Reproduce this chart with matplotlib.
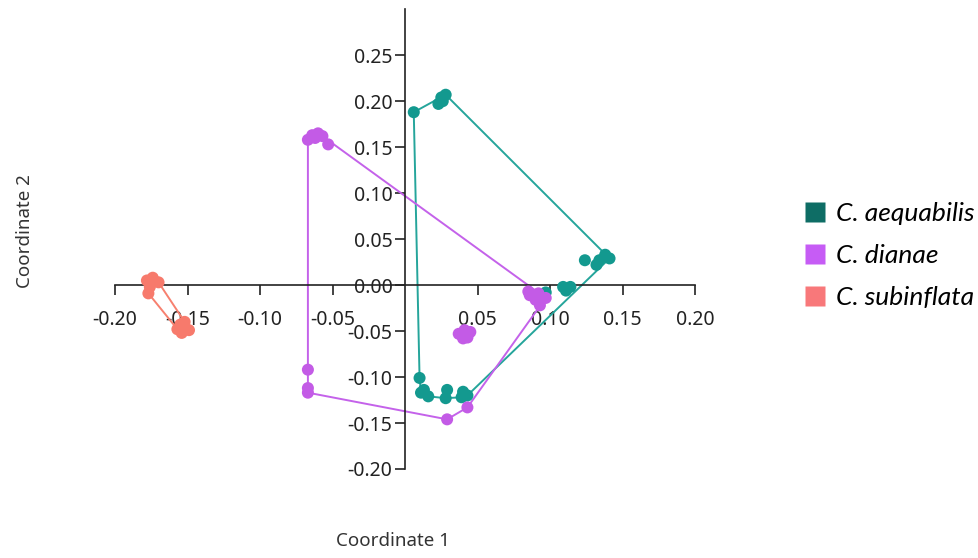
import matplotlib
matplotlib.use('Agg')
import matplotlib.pyplot as plt
from matplotlib.lines import Line2D
import numpy as np

plt.rcParams['axes.unicode_minus'] = False

species = ['C. aequabilis', 'C. dianae', 'C. subinflata']

aeq_x = [0.006, 0.023, 0.025, 0.028, 0.026, 0.138, 0.141, 0.134, 0.132, 0.124,
         0.109, 0.114, 0.111, 0.097, 0.010, 0.011, 0.013, 0.016, 0.029, 0.028,
         0.040, 0.043, 0.039]
aeq_y = [0.188, 0.197, 0.204, 0.207, 0.200, 0.033, 0.029, 0.027, 0.022, 0.027,
         -0.002, -0.002, -0.006, -0.008, -0.101, -0.117, -0.114, -0.121, -0.114, -0.123,
         -0.116, -0.120, -0.122]

dia_x = [-0.067, -0.064, -0.060, -0.057, -0.062, -0.053, -0.067, -0.067, -0.067,
         0.029, 0.043, 0.037, 0.041, 0.045, 0.040, 0.043,
         0.086, 0.090, 0.093, 0.097, 0.092, 0.085]
dia_y = [0.158, 0.163, 0.165, 0.162, 0.160, 0.153, -0.092, -0.112, -0.117,
         -0.146, -0.133, -0.053, -0.049, -0.051, -0.058, -0.057,
         -0.011, -0.016, -0.022, -0.014, -0.009, -0.007]

sub_x = [-0.178, -0.174, -0.176, -0.177, -0.170, -0.155, -0.152, -0.154, -0.149, -0.157]
sub_y = [0.005, 0.008, -0.002, -0.009, 0.003, -0.043, -0.040, -0.052, -0.049, -0.048]

point_colors = ['#13998f', '#c35be6', '#f77a6c']
line_colors = ['#25a59b', '#c462ea', '#f7806f']
legend_colors = ['#0e6d65', '#c65cf5', '#f8787a']


def hull(xs, ys):
    pts = sorted(set(zip(xs, ys)))

    def cross(o, a, b):
        return (a[0] - o[0]) * (b[1] - o[1]) - (a[1] - o[1]) * (b[0] - o[0])

    lower, upper = [], []
    for p in pts:
        while len(lower) >= 2 and cross(lower[-2], lower[-1], p) <= 0:
            lower.pop()
        lower.append(p)
    for p in reversed(pts):
        while len(upper) >= 2 and cross(upper[-2], upper[-1], p) <= 0:
            upper.pop()
        upper.append(p)
    h = lower[:-1] + upper[:-1]
    h.append(h[0])
    return np.array(h)


fig = plt.figure(figsize=(9.79, 5.58), dpi=100)
ax = fig.add_axes([0.1175, 0.1595, 0.5925, 0.824])

for xs, ys, c, lc in zip([aeq_x, dia_x, sub_x], [aeq_y, dia_y, sub_y], point_colors, line_colors):
    h = hull(xs, ys)
    ax.plot(h[:, 0], h[:, 1], color=lc, lw=1.4, zorder=2)
    ax.scatter(xs, ys, s=75, color=c, edgecolors='none', zorder=3)

ax.set_xlim(-0.2, 0.2)
ax.set_ylim(-0.2, 0.30)
ax.spines['left'].set_position(('data', 0))
ax.spines['bottom'].set_position(('data', 0))
ax.spines['top'].set_visible(False)
ax.spines['right'].set_visible(False)
for s in ['left', 'bottom']:
    ax.spines[s].set_linewidth(1.2)
    ax.spines[s].set_color('#222222')

xt = [-0.20, -0.15, -0.10, -0.05, 0.05, 0.10, 0.15, 0.20]
yt = [-0.20, -0.15, -0.10, -0.05, 0.00, 0.05, 0.10, 0.15, 0.20, 0.25]
ax.set_xticks(xt)
ax.set_xticklabels(['%.2f' % v for v in xt])
ax.set_yticks(yt)
ax.set_yticklabels(['%.2f' % v for v in yt])
ax.tick_params(axis='both', direction='out', length=7, width=1.2, color='#222222',
               labelsize=14, labelcolor='#222222')
ax.tick_params(axis='x', pad=11)
ax.tick_params(axis='y', pad=2)
for lab in ax.get_xticklabels() + ax.get_yticklabels():
    lab.set_fontfamily('Noto Sans')

fig.text(393 / 979, 1 - 541 / 558, 'Coordinate 1', ha='center', va='center',
         fontsize=13.5, color='#333333', family='Noto Sans')
fig.text(25 / 979, 1 - 231 / 558, 'Coordinate 2', ha='center', va='center',
         rotation=90, fontsize=13.5, color='#333333', family='Noto Sans')

handles = [Line2D([], [], marker='s', linestyle='none', markersize=14,
                  markerfacecolor=c, markeredgecolor='none') for c in legend_colors]
leg = fig.legend(handles, species, loc='upper left', bbox_to_anchor=(782 / 979, 1 - 178 / 558),
                 frameon=False, handlelength=0.7, handletextpad=0.45, labelspacing=0.72,
                 prop={'family': 'Lato', 'style': 'italic', 'size': 19})

fig.savefig('out.png', dpi=100)
